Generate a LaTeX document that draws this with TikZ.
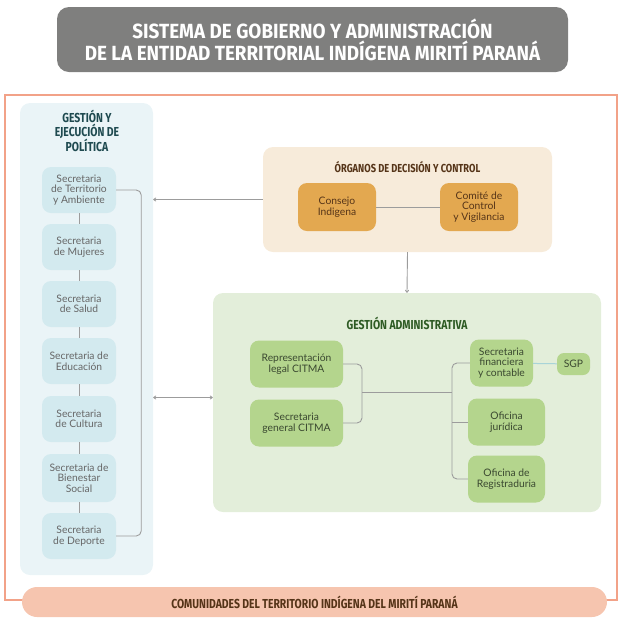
\documentclass[tikz,border=0pt]{standalone}
\usepackage{fontspec}
\setmainfont{Lato}
\newfontfamily\headfont[FakeStretch=0.8]{Fira Sans}
\newfontfamily\titlefont[FakeStretch=0.92]{Fira Sans}
\usepackage{xcolor}
\usetikzlibrary{arrows.meta,positioning,calc}

\definecolor{titlegray}{HTML}{7F7F7E}
\definecolor{frameorange}{HTML}{F2A288}
\definecolor{pillorange}{HTML}{F6C5AF}
\definecolor{bluepanel}{HTML}{EAF4F7}
\definecolor{bluebox}{HTML}{D3EAEF}
\definecolor{bluetitle}{HTML}{1F4A50}
\definecolor{beigepanel}{HTML}{F7EBDA}
\definecolor{goldbox}{HTML}{E3A850}
\definecolor{browntext}{HTML}{553418}
\definecolor{greenpanel}{HTML}{E3EEDA}
\definecolor{greenbox}{HTML}{B4D58D}
\definecolor{greentitle}{HTML}{2E5B24}
\definecolor{greentext}{HTML}{3A4830}
\definecolor{linegray}{HTML}{9C9C9C}
\definecolor{sgpline}{HTML}{A8D4D8}

\begin{document}
\begin{tikzpicture}[x=1pt,y=-1pt,
  panel/.style={rectangle,rounded corners=10pt,inner sep=0pt},
  head/.style={font=\headfont\bfseries\fontsize{13}{13.7}\selectfont,align=center},
  sec/.style={rectangle,rounded corners=9pt,fill=bluebox,align=center,minimum width=74pt,minimum height=46pt,
    inner sep=1pt,text=black!60,font=\fontsize{10.3}{10.5}\selectfont},
  org/.style={sec,fill=goldbox,minimum width=78pt,minimum height=48pt,text=browntext},
  adm/.style={sec,fill=greenbox,minimum height=47pt,text=greentext},
  conn/.style={draw=linegray,line width=0.9pt},
  arr/.style={conn,-{To[length=3pt,width=4pt]}}
]
\useasboundingbox (0,0) rectangle (622,625);

% title
\node[panel,fill=titlegray,minimum width=511pt,minimum height=65pt,rounded corners=12pt,
  text=white,align=center,font=\titlefont\bfseries\fontsize{20.5}{22}\selectfont] (title) at (312.5,39.5)
  {SISTEMA DE GOBIERNO Y ADMINISTRACIÓN\\DE LA ENTIDAD TERRITORIAL INDÍGENA MIRITÍ PARANÁ};

% frame and communities
\draw[frameorange,line width=1.6pt] (5,95) rectangle (617,600);
\node[panel,fill=pillorange,minimum width=585pt,minimum height=30pt,rounded corners=15pt,
  head,text=browntext] (comunidades) at (314.5,602) {COMUNIDADES DEL TERRITORIO INDÍGENA DEL MIRITÍ PARANÁ};

% gestion y ejecucion de politica
\node[panel,fill=bluepanel,minimum width=133pt,minimum height=472pt] (gestion) at (86.5,339) {};
\node[head,text=bluetitle] (gestiontitle) at (87,131) {GESTIÓN Y\\EJECUCIÓN DE\\POLÍTICA};
\node[sec] (territorio) at (79,190) {Secretaria\\de Territorio\\y Ambiente};
\node[sec] (mujeres) at (79,247) {Secretaria\\de Mujeres};
\node[sec] (salud) at (79,304) {Secretaria\\de Salud};
\node[sec] (educacion) at (79,361) {Secretaria de\\Educación};
\node[sec] (cultura) at (79,419) {Secretaria\\de Cultura};
\node[sec,minimum height=48pt] (bienestar) at (79,478) {Secretaria de\\Bienestar\\Social};
\node[sec] (deporte) at (79,536) {Secretaria\\de Deporte};
\foreach \a/\b in {territorio/mujeres,mujeres/salud,salud/educacion,educacion/cultura,cultura/bienestar,bienestar/deporte}
  \draw[conn] (\a) -- (\b);
\draw[conn,rounded corners=5pt] (territorio.east) -- ++(25,0) |- (deporte.east);

% organos de decision y control
\node[panel,fill=beigepanel,minimum width=289pt,minimum height=105pt] (organos) at (407.5,199.5) {};
\node[head,font=\headfont\bfseries\fontsize{11.6}{12}\selectfont,text=browntext] (organostitle) at (407.5,167) {ÓRGANOS DE DECISIÓN Y CONTROL};
\node[org] (consejo) at (337,207) {Consejo\\Indigena};
\node[org] (comite) at (479,207) {Comité de\\Control\\y Vigilancia};
\draw[conn] (consejo) -- (comite);

% gestion administrativa
\node[panel,fill=greenpanel,minimum width=388pt,minimum height=219pt] (admin) at (407,402.5) {};
\node[head,text=greentitle] (admintitle) at (407,323) {GESTIÓN ADMINISTRATIVA};
\node[adm,minimum width=93pt] (legal) at (296.5,364) {Representación\\legal CITMA};
\node[adm,minimum width=93pt] (general) at (296.5,423) {Secretaria\\general CITMA};
\node[adm,minimum width=63pt] (financiera) at (501.5,363) {Secretaria\\financiera\\y contable};
\node[adm,minimum width=77pt] (juridica) at (506.5,422) {Oficina\\jurídica};
\node[adm,minimum width=77pt] (registraduria) at (506.5,479) {Oficina de\\Registraduria};
\node[adm,minimum width=33pt,minimum height=22pt,rounded corners=7pt] (sgp) at (573.5,364) {SGP};
\draw[draw=sgpline,line width=1pt] (financiera) -- (sgp);
\coordinate (lb) at (362,392);
\coordinate (rb) at (452,392);
\draw[conn,rounded corners=5pt] (legal.east) -| (lb) |- (general.east);
\draw[conn,rounded corners=5pt] (financiera.west) -| (rb) |- (registraduria.west);
\draw[conn] (juridica.west) -- (juridica.west -| rb);
\draw[conn] (lb) -- (rb);

% relations between panels
\draw[arr] (organos.west) -- (organos.west -| gestion.east);
\draw[arr] (organos.south) -- (admin.north);
\draw[arr,{To[length=3pt,width=4pt]}-{To[length=3pt,width=4pt]}] ([yshift=5pt]gestion.east |- admin.west) -- ([yshift=5pt]admin.west);
\end{tikzpicture}
\end{document}
